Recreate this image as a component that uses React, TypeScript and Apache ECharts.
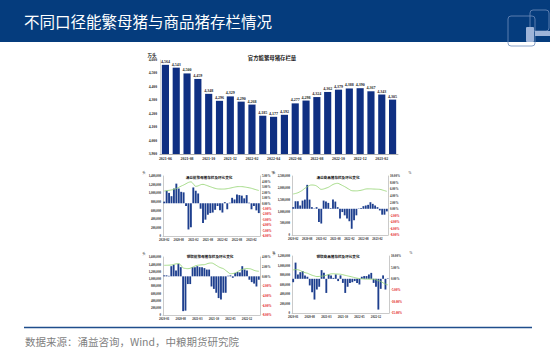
import React, { useEffect, useRef } from 'react';
import * as echarts from 'echarts';

// ---------- main chart: official breeding-sow inventory (万头) ----------
const mainCategories = [
  '2021-06', '2021-07', '2021-08', '2021-09', '2021-10', '2021-11', '2021-12',
  '2022-01', '2022-02', '2022-03', '2022-04', '2022-05', '2022-06', '2022-07',
  '2022-08', '2022-09', '2022-10', '2022-11', '2022-12', '2023-01', '2023-02', '2023-03',
];
const mainValues = [
  4564, 4543, 4500, 4459, 4348, 4296, 4329, 4290, 4268, 4185, 4177,
  4192, 4277, 4298, 4324, 4362, 4379, 4388, 4390, 4367, 4343, 4305,
];

// ---------- helper for month tick labels ----------
function monthLabels(startYear: number, startMonth: number, count: number): string[] {
  const out: string[] = [];
  let y = startYear;
  let m = startMonth;
  for (let i = 0; i < count; i++) {
    out.push(`${y}-${m < 10 ? '0' + m : m}`);
    m++;
    if (m > 12) { m = 1; y++; }
  }
  return out;
}

// ---------- top-left small chart ----------
const tlCategories = monthLabels(2020, 2, 40);
const tlChange = [
  0.3, 2.3, 1.9, 1.3, 2.7, 3.6, 2.7, 2.1, 2.0, -0.5, -4.8, -4.4, 2.9, 2.3, 1.8, -1.0,
  -3.6, -3.0, -2.1, -1.8, -1.7, -1.2, -0.5, -1.3, -1.7, 0.2, -1.1, 0.1, 1.0, 0.7,
  1.6, 1.5, 1.4, 0.9, 1.5, 0.1, -1.1, -0.5, -1.3, -1.8,
];
const tlStock = [
  1050000, 1058000, 1065000, 1075000, 1090000, 1110000, 1135000, 1165000, 1190000, 1220000,
  1250000, 1262000, 1215000, 1160000, 1170000, 1195000, 1205000, 1190000, 1170000, 1150000,
  1130000, 1112000, 1100000, 1096000, 1095000, 1097000, 1105000, 1115000, 1128000, 1140000,
  1150000, 1153000, 1152000, 1145000, 1135000, 1125000, 1112000, 1095000, 1078000, 1062000,
];

// ---------- top-right small chart ----------
const trCategories = monthLabels(2020, 2, 41);
const trChange = [
  0.5, 2.3, 2.3, 1.0, 2.5, 2.8, 7.3, 2.8, 0.5, 0.1, 0.5, -4.0, -4.5, 2.5, 2.2, 1.8, 0.2,
  2.8, 2.2, 0.5, -3.0, -1.0, -2.0, -3.0, -3.8, -6.1, -3.5, -2.0, 0.1, 0.2, 0.8, 1.0,
  1.2, 2.0, 1.5, 1.0, 0.5, -0.5, -1.8, -1.8, -0.8,
];
const trStock = [
  1737000, 1760000, 1790000, 1840000, 1900000, 1980000, 2040000, 2100000, 2119000, 2110000,
  2076000, 2000000, 1935000, 1950000, 1985000, 2020000, 2080000, 2140000, 2175000, 2189000,
  2150000, 2100000, 2048000, 1990000, 1930000, 1879000, 1870000, 1870000, 1879000, 1895000,
  1920000, 1949000, 1955000, 1955000, 1949000, 1945000, 1940000, 1935000, 1910000, 1880000, 1850000,
];

// ---------- bottom-left small chart ----------
const blCategories = monthLabels(2020, 1, 41);
const blChange = [
  0.2, 0.2, 0.1, 2.1, 2.4, 1.2, 2.6, 1.9, -7.2, -7.1, -1.6, -1.6, 1.9, 1.9, 2.1, 1.9,
  1.9, 1.7, 1.4, 1.4, -2.1, -2.6, -3.4, -4.5, -4.8, -3.4, -3.4, 0.1, 0.2, -0.3, 0.7,
  0.9, 0.8, 2.1, 1.4, 1.2, -0.7, -1.2, -1.5, -2.1, -0.7,
];
const blStock = [
  1370000, 1372000, 1375000, 1380000, 1395000, 1410000, 1416000, 1380000, 1300000, 1285000,
  1278000, 1290000, 1320000, 1350000, 1370000, 1378000, 1385000, 1389000, 1410000, 1430000,
  1434000, 1410000, 1370000, 1330000, 1300000, 1278000, 1230000, 1180000, 1140000, 1145000,
  1159000, 1195000, 1232000, 1255000, 1278000, 1280000, 1278000, 1260000, 1232000, 1215000, 1205000,
];

// ---------- bottom-right small chart ----------
const brCategories = monthLabels(2020, 1, 41);
const brChange = [
  -1.5, 7.1, 1.9, 2.9, 3.4, 1.5, 0.9, -2.9, -5.9, -9.1, -4.7, -3.5, 3.8, 2.6, -6.2, 1.9,
  1.5, 0.4, 1.9, -1.0, 1.5, -1.8, -6.2, -3.5, -1.8, -1.5, -1.0, -1.8, -2.5, 0.9, 1.2,
  1.2, 1.9, 2.6, -1.8, -3.5, -13.5, -4.4, 1.5, -4.7, 0.2,
];
const brStock = [
  907000, 914000, 910000, 893000, 870000, 850000, 837000, 815000, 795000, 780000,
  767000, 770000, 775000, 781000, 795000, 810000, 823000, 826000, 822000, 819000,
  816000, 805000, 793000, 781000, 770000, 758000, 745000, 733000, 726000, 720000,
  715000, 712000, 712000, 712000, 712000, 700000, 680000, 663000, 635000, 607000, 593000,
];

const SERIF = '"Liberation Serif", "Noto Sans CJK SC", serif';
const CJK = '"Noto Sans CJK SC", sans-serif';
const AXIS_GRAY = '#A6A6A6';
const TEXT = '#262626';
const SMALL_BAR = '#1E3F8E';
const GREEN = '#92D36E';

const fmt = (v: number) => String(Math.round(v)).replace(/\B(?=(\d{3})+(?!\d))/g, ',');
const pct = (v: number) => Number(v).toFixed(2) + '%';
const negColor = (v: any) => (Number(v) < 0 ? '#E00000' : TEXT);

type Small = {
  grid: { left: number; top: number; width: number; height: number };
  cats: string[];
  change: number[];
  stock: number[];
  leftMax: number;
  leftInt: number;
  rMin: number;
  rMax: number;
  rInt: number;
  labelInterval: number;
  title: string;
  titleX: number;
  titleY: number;
  unitX: number;
  pctX: number;
  unitY: number;
};

const smalls: Small[] = [
  {
    grid: { left: 163, top: 176, width: 97, height: 60 },
    cats: tlCategories, change: tlChange, stock: tlStock,
    leftMax: 1400000, leftInt: 200000, rMin: -6, rMax: 5, rInt: 1, labelInterval: 5,
    title: '涌益能繁母猪存栏及环比变化', titleX: 209, titleY: 177, unitX: 144, pctX: 273, unitY: 172.5,
  },
  {
    grid: { left: 292, top: 176, width: 96, height: 59 },
    cats: trCategories, change: trChange, stock: trStock,
    leftMax: 2500000, leftInt: 500000, rMin: -8, rMax: 10, rInt: 2, labelInterval: 5,
    title: '涌益商品猪存栏及环比变化', titleX: 338, titleY: 177, unitX: 274, pctX: 410, unitY: 172.5,
  },
  {
    grid: { left: 163, top: 257, width: 97, height: 58 },
    cats: blCategories, change: blChange, stock: blStock,
    leftMax: 1600000, leftInt: 200000, rMin: -8, rMax: 4, rInt: 2, labelInterval: 6,
    title: '钢联能繁母猪存栏及环比变化', titleX: 210, titleY: 256, unitX: 144, pctX: 274, unitY: 253,
  },
  {
    grid: { left: 292, top: 256, width: 97, height: 57 },
    cats: brCategories, change: brChange, stock: brStock,
    leftMax: 1200000, leftInt: 200000, rMin: -15, rMax: 10, rInt: 5, labelInterval: 6,
    title: '钢联商品猪存栏及环比变化', titleX: 338, titleY: 256.5, unitX: 274, pctX: 411, unitY: 253,
  },
];

function buildOption() {
  const grids: any[] = [{ left: 160, top: 60, width: 238, height: 94 }];
  const xAxes: any[] = [
    {
      type: 'category', gridIndex: 0, data: mainCategories,
      axisLine: { onZero: false, lineStyle: { color: '#8C8C8C', width: 0.7 } },
      axisTick: { show: false },
      axisLabel: { interval: 1, fontSize: 3.9, color: TEXT, fontWeight: 'bold', margin: 3, fontFamily: SERIF },
    },
  ];
  const yAxes: any[] = [
    {
      type: 'value', gridIndex: 0, min: 3900, max: 4600, interval: 100,
      axisLine: { show: true, lineStyle: { color: '#BFBFBF', width: 0.6 } },
      axisTick: { show: false },
      splitLine: { show: false },
      axisLabel: { fontSize: 3.7, color: TEXT, fontWeight: 'bold', margin: 3, formatter: fmt, fontFamily: SERIF },
    },
  ];
  const series: any[] = [
    {
      type: 'bar', xAxisIndex: 0, yAxisIndex: 0, data: mainValues,
      barCategoryGap: '34%',
      itemStyle: { color: '#0F2F82' },
      label: {
        show: true, position: 'top', distance: 1.5, fontSize: 4, color: '#1A1A1A',
        fontWeight: 'bold', fontFamily: SERIF, formatter: (p: any) => fmt(p.value),
      },
    },
  ];
  const graphics: any[] = [
    { type: 'rect', shape: { x: 0, y: 0, width: 550, height: 42 }, style: { fill: '#053C7D' } },
    {
      type: 'text', x: 24, y: 21,
      style: { text: '不同口径能繁母猪与商品猪存栏情况', fill: '#FFFFFF', fontSize: 15.5, fontFamily: CJK, verticalAlign: 'middle' },
    },
    // logo
    { type: 'rect', shape: { x: 530, y: 10, width: 19, height: 21, r: 3 }, style: { fill: 'none', stroke: '#6F8DBB', lineWidth: 0.8 } },
    { type: 'rect', shape: { x: 508, y: 16, width: 27, height: 30, r: 3 }, style: { fill: 'none', stroke: '#6F8DBB', lineWidth: 0.8 } },
    { type: 'rect', shape: { x: 526, y: 27, width: 8, height: 15, r: 1 }, style: { fill: '#9EB4D8' } },
    { type: 'rect', shape: { x: 535, y: 31, width: 15, height: 5 }, style: { fill: '#9EB4D8' } },
    // footer
    { type: 'line', shape: { x1: 24, y1: 327.5, x2: 532, y2: 327.5 }, style: { stroke: '#1F4E8C', lineWidth: 1.5 } },
    {
      type: 'text', x: 25, y: 341.5,
      style: { text: '数据来源：涌益咨询，Wind，中粮期货研究院', fill: '#7F7F7F', fontSize: 10.5, fontFamily: CJK, verticalAlign: 'middle' },
    },
    // main chart title + unit
    {
      type: 'text', x: 272, y: 57.5,
      style: { text: '官方能繁母猪存栏量', fill: '#1A1A1A', fontSize: 5.4, fontWeight: 'bold', fontFamily: CJK, align: 'center', verticalAlign: 'middle' },
    },
    {
      type: 'text', x: 152, y: 55,
      style: { text: '万头', fill: '#1A1A1A', fontSize: 4.5, fontWeight: 'bold', fontFamily: CJK, align: 'center', verticalAlign: 'middle' },
    },
  ];

  smalls.forEach((s, i) => {
    const gi = i + 1;
    grids.push(s.grid);
    xAxes.push({
      type: 'category', gridIndex: gi, data: s.cats,
      axisLine: { onZero: false, lineStyle: { color: AXIS_GRAY, width: 0.6 } },
      axisTick: { show: false },
      axisLabel: { interval: s.labelInterval, fontSize: 3.1, color: TEXT, fontWeight: 'bold', margin: 2, fontFamily: SERIF },
    });
    const leftIndex = yAxes.length;
    yAxes.push({
      type: 'value', gridIndex: gi, position: 'left', min: 0, max: s.leftMax, interval: s.leftInt,
      axisLine: { show: true, lineStyle: { color: AXIS_GRAY, width: 0.6 } },
      axisTick: { show: false },
      splitLine: { show: false },
      axisLabel: { fontSize: 3.1, color: TEXT, fontWeight: 'bold', margin: 2, formatter: fmt, fontFamily: SERIF },
    });
    const rightIndex = yAxes.length;
    yAxes.push({
      type: 'value', gridIndex: gi, position: 'right', min: s.rMin, max: s.rMax, interval: s.rInt,
      axisLine: { show: true, lineStyle: { color: AXIS_GRAY, width: 0.6 } },
      axisTick: { show: false },
      splitLine: { show: false },
      axisLabel: { fontSize: 3.1, color: negColor, fontWeight: 'bold', margin: 2, formatter: pct, fontFamily: SERIF },
    });
    series.push({
      type: 'bar', xAxisIndex: gi, yAxisIndex: rightIndex, data: s.change,
      barCategoryGap: '22%', itemStyle: { color: SMALL_BAR },
    });
    series.push({
      type: 'line', xAxisIndex: gi, yAxisIndex: leftIndex, data: s.stock,
      smooth: true, showSymbol: false, lineStyle: { color: GREEN, width: 0.8 },
    });
    graphics.push({
      type: 'text', x: s.titleX, y: s.titleY,
      style: { text: s.title, fill: '#1A1A1A', fontSize: 3.6, fontWeight: 'bold', fontFamily: CJK, align: 'center', verticalAlign: 'middle' },
    });
    graphics.push({
      type: 'text', x: s.unitX, y: s.unitY,
      style: { text: '头', fill: '#1A1A1A', fontSize: 3.4, fontFamily: CJK, align: 'center', verticalAlign: 'middle' },
    });
    graphics.push({
      type: 'text', x: s.pctX, y: s.unitY,
      style: { text: '%', fill: '#1A1A1A', fontSize: 3.4, fontFamily: SERIF, align: 'center', verticalAlign: 'middle' },
    });
  });

  return {
    animation: false,
    backgroundColor: '#FFFFFF',
    grid: grids,
    xAxis: xAxes,
    yAxis: yAxes,
    series,
    graphic: graphics,
  };
}

export default function App() {
  const ref = useRef<HTMLDivElement>(null);
  useEffect(() => {
    if (!ref.current) return;
    const chart = echarts.init(ref.current, undefined, { renderer: 'svg' });
    chart.setOption(buildOption() as any);
    return () => chart.dispose();
  }, []);
  return (
    <div
      ref={ref}
      style={{ position: 'absolute', left: 0, top: 0, width: 550, height: 354, background: '#FFFFFF' }}
    />
  );
}
